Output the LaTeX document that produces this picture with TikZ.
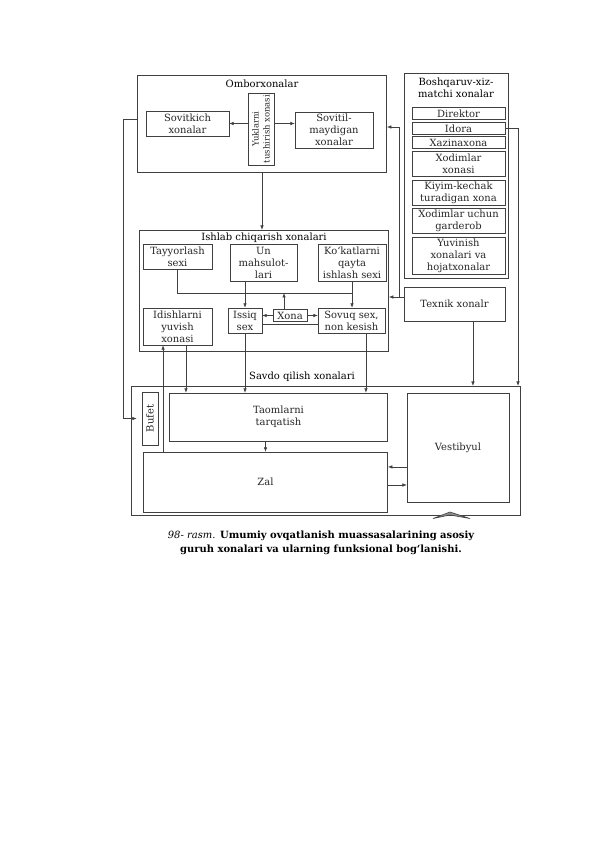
\documentclass[tikz,border=0pt]{standalone}
\usepackage{fontspec}
\setmainfont{DejaVu Serif}
\usetikzlibrary{arrows.meta}
\begin{document}
\begin{tikzpicture}[x=1bp, y=-1bp, font=\fontsize{10}{12}\selectfont,
    box/.style={draw=black!75, line width=0.6pt, align=center, inner sep=0pt, text=black!85},
    link/.style={draw=black!75, line width=0.6pt},
    arr/.style={link, -{Latex[length=4.5pt, width=3.5pt]}}]
  \useasboundingbox (0,0) rectangle (596,842);
    \node[box, minimum width=250, minimum height=97] (ombor) at (262,123.5) {};
    \node (ombortitle) at (262,83.5) {Omborxonalar};
    \node[box, minimum width=83, minimum height=25] (sovitkich) at (187.5,123.5) {Sovitkich\\xonalar};
    \node[box, rotate=90, minimum width=72, minimum height=26, font=\fontsize{8.5}{11}\selectfont] (yuklar) at (261,129) {Yuklarni\\tushirish xonasi};
    \node[box, minimum width=78, minimum height=36] (sovitil) at (334,130) {Sovitil-\\maydigan\\xonalar};
    \node[box, minimum width=104, minimum height=206] (bosh) at (456,176) {};
    \node[align=center] (boshtitle) at (456,88) {Boshqaruv-xiz-\\matchi xonalar};
    \node[box, minimum width=93, minimum height=12.5] (direktor) at (458.5,113.5) {Direktor};
    \node[box, minimum width=93, minimum height=12] (idora) at (458.5,128.5) {Idora};
    \node[box, minimum width=93, minimum height=12] (xazina) at (458.5,142.5) {Xazinaxona};
    \node[box, minimum width=93, minimum height=25] (xodim) at (458.5,163.5) {Xodimlar\\xonasi};
    \node[box, minimum width=93, minimum height=25] (kiyim) at (458.5,192.5) {Kiyim-kechak\\turadigan xona};
    \node[box, minimum width=93, minimum height=25] (garderob) at (458.5,220.5) {Xodimlar uchun\\garderob};
    \node[box, minimum width=93, minimum height=37] (yuvinish) at (458.5,255.5) {Yuvinish\\xonalari va\\hojatxonalar};
    \node[box, minimum width=101, minimum height=34] (texnik) at (454.5,304) {Texnik xonalr};
    \node[box, minimum width=250, minimum height=122] (ishlab) at (264,291) {};
    \node (ishlabtitle) at (264,237.5) {Ishlab chiqarish xonalari};
    \node[box, minimum width=69, minimum height=25] (tayyor) at (177.5,256.5) {Tayyorlash\\sexi};
    \node[box, minimum width=67, minimum height=37] (un) at (263.5,262.5) {Un\\mahsulot-\\lari};
    \node[box, minimum width=68, minimum height=37] (kokat) at (352,262.5) {Ko‘katlarni\\qayta\\ishlash sexi};
    \node[box, minimum width=69, minimum height=37] (idish) at (177.5,326.5) {Idishlarni\\yuvish\\xonasi};
    \node[box, minimum width=34, minimum height=25] (issiq) at (245,320.5) {Issiq\\sex};
    \node[box, minimum width=34, minimum height=11.5] (xona) at (290,315.5) {Xona};
    \node[box, minimum width=67, minimum height=25] (sovuq) at (351.5,320.5) {Sovuq sex,\\non kesish};
    \node[box, minimum width=390, minimum height=130] (savdo) at (326,451) {};
    \node (savdotitle) at (302,377) {Savdo qilish xonalari};
    \node[box, rotate=90, minimum width=53, minimum height=16] (bufet) at (150,418.5) {Bufet};
    \node[box, minimum width=219, minimum height=48] (taom) at (278.5,417) {Taomlarni\\tarqatish};
    \node[box, minimum width=245, minimum height=60] (zal) at (265.5,482) {Zal};
    \node[box, minimum width=102, minimum height=109] (vest) at (458,447.5) {Vestibyul};
    \node[align=center, font=\fontsize{10}{14}\selectfont\bfseries] (caption) at (321,543)
      {\textit{\mdseries 98- rasm.} Umumiy ovqatlanish muassasalarining asosiy\\guruh xonalari va ularning funksional bog‘lanishi.};
    \coordinate (lbus) at (123,119);
    \coordinate (rbus) at (518,128.5);
    \coordinate (tbus) at (399,297);
    \coordinate (tbustop) at (399,127);
    \coordinate (mid) at (352,293);
    \draw[arr] (yuklar.north |- sovitkich.east) -- (sovitkich.east);
    \draw[arr] (yuklar.south |- sovitkich.east) -- (sovitil.west |- sovitkich.east);
    \draw[arr] (ombor.south) -- (ombor.south |- ishlab.north);
    \draw[arr, shorten >=5pt] (ombor.west |- lbus) -- (lbus) |- (bufet.north);
    \draw[arr] (idora.east) -- (rbus) -- (rbus |- savdo.north);
    \draw[link] (texnik.west |- tbus) -- (tbus);
    \draw[arr] (tbus) -- (ishlab.east |- tbus);
    \draw[arr] (tbus) -- (tbustop) -- (ombor.east |- tbustop);
    \draw[arr] ([xshift=18.5pt]texnik.south) -- ([xshift=18.5pt]texnik.south |- savdo.north);
    \draw[link] (tayyor.south) |- (mid);
    \draw[arr] (kokat.south) -- (kokat.south |- sovuq.north);
    \draw[arr] (issiq.north |- un.south) -- (issiq.north);
    \draw[arr] ([xshift=-6pt]xona.north) -- ([xshift=-6pt]xona.north |- mid);
    \draw[arr] (xona.west) -- (issiq.east |- xona.west);
    \draw[arr] (xona.east) -- (sovuq.west |- xona.east);
    \draw[link] ([yshift=-3.5pt]issiq.east) -- ([yshift=-3.5pt]sovuq.west);
    \draw[arr] ([xshift=8.5pt]idish.south) -- ([xshift=8.5pt]idish.south |- taom.north);
    \draw[arr] ([xshift=-14.5pt]idish.south |- zal.north) -- ([xshift=-14.5pt]idish.south);
    \draw[arr] (issiq.south) -- (issiq.south |- taom.north);
    \draw[arr] ([xshift=14.5pt]sovuq.south) -- ([xshift=14.5pt]sovuq.south |- taom.north);
    \draw[arr] (taom.south -| zal.north) -- (zal.north);
    \draw[arr] ([yshift=-19.5pt]vest.west) -- ([yshift=-19.5pt]vest.west -| zal.east);
    \draw[arr] ([yshift=-3pt]zal.east) -- ([yshift=-3pt]zal.east -| vest.west);
    \draw[link, fill=black!45] (433,518.5) -- (450,512) -- (470,518.5) -- (450,515) -- cycle;
  \end{tikzpicture}
\end{document}
